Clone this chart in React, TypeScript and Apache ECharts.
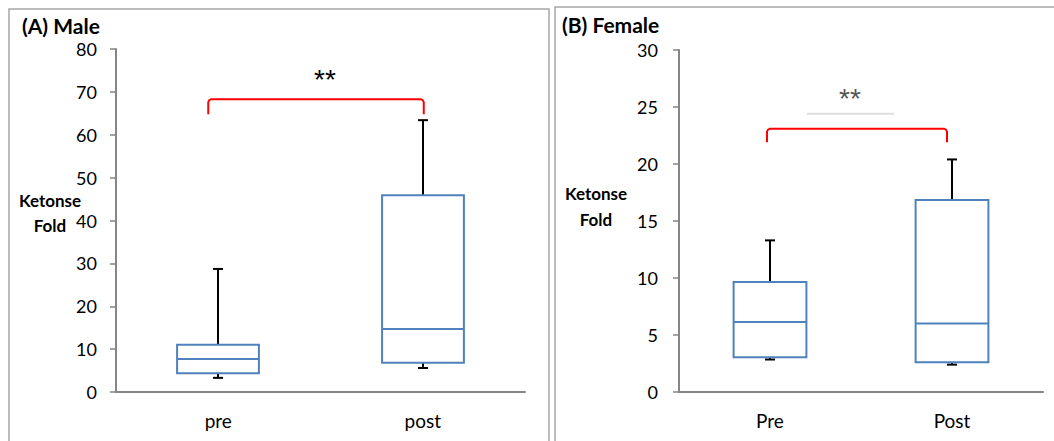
import React, { useEffect, useRef } from "react";
import * as echarts from "echarts";

// ---- data ----
const maleCategories = ["pre", "post"];
const femaleCategories = ["Pre", "Post"];
// [min, q1, median, q3, max]
const malePre = [3.3, 4.4, 7.7, 11.0, 28.7];
const malePost = [5.6, 6.8, 14.7, 45.9, 63.4];
const femalePre = [2.85, 3.05, 6.15, 9.65, 13.3];
const femalePost = [2.4, 2.6, 6.0, 16.85, 20.4];
const maleTicks = { min: 0, max: 80, interval: 10 };
const femaleTicks = { min: 0, max: 30, interval: 5 };
// significance brackets: [fromIndex, toIndex, topValue, endValue, starValue]
const maleBracket = [0, 1, 68.3, 64.8, 74.6];
const femaleBracket = [0, 1, 23.1, 21.9, 26.4];
const femaleStarLine = 24.4;
const titles = ["(A) Male", "(B) Female"];
const yName = ["Ketonse", "Fold"];

const FONT = "Lato";
const AXIS_COLOR = "#868686";
const BOX_COLOR = "#4F81BD";

const renderBox = (params: any, api: any) => {
  const x = api.value(0);
  const lo = api.coord([x, api.value(1)]);
  const q1 = api.coord([x, api.value(2)]);
  const med = api.coord([x, api.value(3)]);
  const q3 = api.coord([x, api.value(4)]);
  const hi = api.coord([x, api.value(5)]);
  const cx = Math.round(lo[0]);
  const bw = api.size([1, 0])[0] * 0.4;
  const cap = 5;
  const wStyle = { stroke: "#000", lineWidth: 2 };
  return {
    type: "group",
    children: [
      { type: "line", shape: { x1: cx, y1: hi[1], x2: cx, y2: q3[1] }, style: wStyle },
      { type: "line", shape: { x1: cx - cap, y1: hi[1], x2: cx + cap, y2: hi[1] }, style: wStyle },
      { type: "line", shape: { x1: cx, y1: lo[1], x2: cx, y2: q1[1] }, style: wStyle },
      { type: "line", shape: { x1: cx - cap, y1: lo[1], x2: cx + cap, y2: lo[1] }, style: wStyle },
      {
        type: "rect",
        shape: { x: cx - bw / 2, y: q3[1], width: bw, height: q1[1] - q3[1] },
        style: { fill: "#fff", stroke: BOX_COLOR, lineWidth: 2 },
      },
      {
        type: "line",
        shape: { x1: cx - bw / 2, y1: med[1], x2: cx + bw / 2, y2: med[1] },
        style: { stroke: BOX_COLOR, lineWidth: 2 },
      },
    ],
  };
};

const makeBracketRenderer =
  (offL: number, offR: number, starOff: number, starColor: string, starLine: number | null) =>
  (params: any, api: any) => {
    const a = api.value(0);
    const b = api.value(1);
    const topA = api.coord([a, api.value(2)]);
    const endA = api.coord([a, api.value(3)]);
    const topB = api.coord([b, api.value(2)]);
    const star = api.coord([a, api.value(4)]);
    const x1 = topA[0] + offL;
    const x2 = topB[0] + offR;
    const r = 3;
    const children: any[] = [
      {
        type: "polyline",
        shape: {
          points: [
            [x1, endA[1]],
            [x1, topA[1] + r],
            [x1 + 1, topA[1] + 1],
            [x1 + r, topA[1]],
            [x2 - r, topA[1]],
            [x2 - 1, topA[1] + 1],
            [x2, topA[1] + r],
            [x2, endA[1]],
          ],
        },
        style: { stroke: "#ff0000", lineWidth: 2, fill: null },
      },
      {
        type: "text",
        x: (x1 + x2) / 2 + starOff,
        y: star[1] + 7,
        style: {
          text: "**",
          fill: starColor,
          font: `28px 'Liberation Sans'`,
          align: "center",
          verticalAlign: "middle",
        },
      },
    ];
    if (starLine !== null) {
      const ly = api.coord([a, starLine])[1];
      children.push({
        type: "line",
        shape: { x1: (x1 + x2) / 2 + starOff - 43, y1: ly, x2: (x1 + x2) / 2 + starOff + 44, y2: ly },
        style: { stroke: "#dedede", lineWidth: 2 },
      });
    }
    return { type: "group", children };
  };

export default function App() {
  const ref = useRef<HTMLDivElement>(null);
  useEffect(() => {
    if (!ref.current) return;
    const chart = echarts.init(ref.current, null, { renderer: "svg" });
    const xAxisBase = (idx: number, cats: string[]) => ({
      type: "category",
      gridIndex: idx,
      data: cats,
      axisLine: { lineStyle: { color: AXIS_COLOR, width: 2 } },
      axisTick: { length: 7, lineStyle: { color: AXIS_COLOR, width: 2 } },
      axisLabel: { color: "#000", fontFamily: FONT, fontSize: 19, margin: 19 },
    });
    const yAxisBase = (idx: number, t: any, margin: number) => ({
      type: "value",
      gridIndex: idx,
      min: t.min,
      max: t.max,
      interval: t.interval,
      splitLine: { show: false },
      axisLine: { show: true, lineStyle: { color: AXIS_COLOR, width: 2 } },
      axisTick: { show: true, length: 6, lineStyle: { color: AXIS_COLOR, width: 1.5 } },
      axisLabel: { color: "#000", fontFamily: FONT, fontSize: 18, margin },
    });
    const titleText = (x: number, y: number, text: string) => ({
      type: "text",
      x,
      y,
      style: { text, font: `bold 21px ${FONT}`, fill: "#000", verticalAlign: "middle", lineHeight: 18 },
    });
    const nameText = (x: number, y: number, text: string) => ({
      type: "text",
      x,
      y,
      style: { text, font: `bold 17px ${FONT}`, fill: "#000", align: "center", verticalAlign: "middle" },
    });
    chart.setOption({
      animation: false,
      backgroundColor: "#fff",
      grid: [
        { left: 116, top: 49, width: 409, height: 343 },
        { left: 679, top: 50, width: 364, height: 342 },
      ],
      xAxis: [xAxisBase(0, maleCategories), xAxisBase(1, femaleCategories)],
      yAxis: [yAxisBase(0, maleTicks, 19), yAxisBase(1, femaleTicks, 21)],
      graphic: [
        {
          type: "rect",
          shape: { x: 9, y: 9, width: 540, height: 500 },
          style: { fill: null, stroke: "#a6a6a6", lineWidth: 1.5 },
          silent: true,
        },
        {
          type: "rect",
          shape: { x: 555, y: 7, width: 600, height: 500 },
          style: { fill: null, stroke: "#a6a6a6", lineWidth: 1.5 },
          silent: true,
        },
        titleText(22, 25.5, titles[0]),
        titleText(562, 24.5, titles[1]),
        nameText(50, 200, yName[0]),
        nameText(50, 225, yName[1]),
        nameText(596, 193, yName[0]),
        nameText(596, 219, yName[1]),
      ],
      series: [
        {
          type: "custom",
          xAxisIndex: 0,
          yAxisIndex: 0,
          renderItem: renderBox,
          encode: { x: 0, y: [1, 2, 3, 4, 5] },
          data: [
            [0, ...malePre],
            [1, ...malePost],
          ],
        },
        {
          type: "custom",
          xAxisIndex: 1,
          yAxisIndex: 1,
          renderItem: renderBox,
          encode: { x: 0, y: [1, 2, 3, 4, 5] },
          data: [
            [0, ...femalePre],
            [1, ...femalePost],
          ],
        },
        {
          type: "custom",
          xAxisIndex: 0,
          yAxisIndex: 0,
          renderItem: makeBracketRenderer(-10, 1, 9, "#000", null),
          encode: { x: [0, 1], y: [2, 3, 4] },
          data: [maleBracket],
          z: 3,
        },
        {
          type: "custom",
          xAxisIndex: 1,
          yAxisIndex: 1,
          renderItem: makeBracketRenderer(-3, -5, -7, "#555", femaleStarLine),
          encode: { x: [0, 1], y: [2, 3, 4] },
          data: [femaleBracket],
          z: 3,
        },
      ],
    });
    return () => chart.dispose();
  }, []);
  return (
    <div
      ref={ref}
      style={{ position: "fixed", left: 0, top: 0, width: 1054, height: 441, background: "#fff" }}
    />
  );
}
